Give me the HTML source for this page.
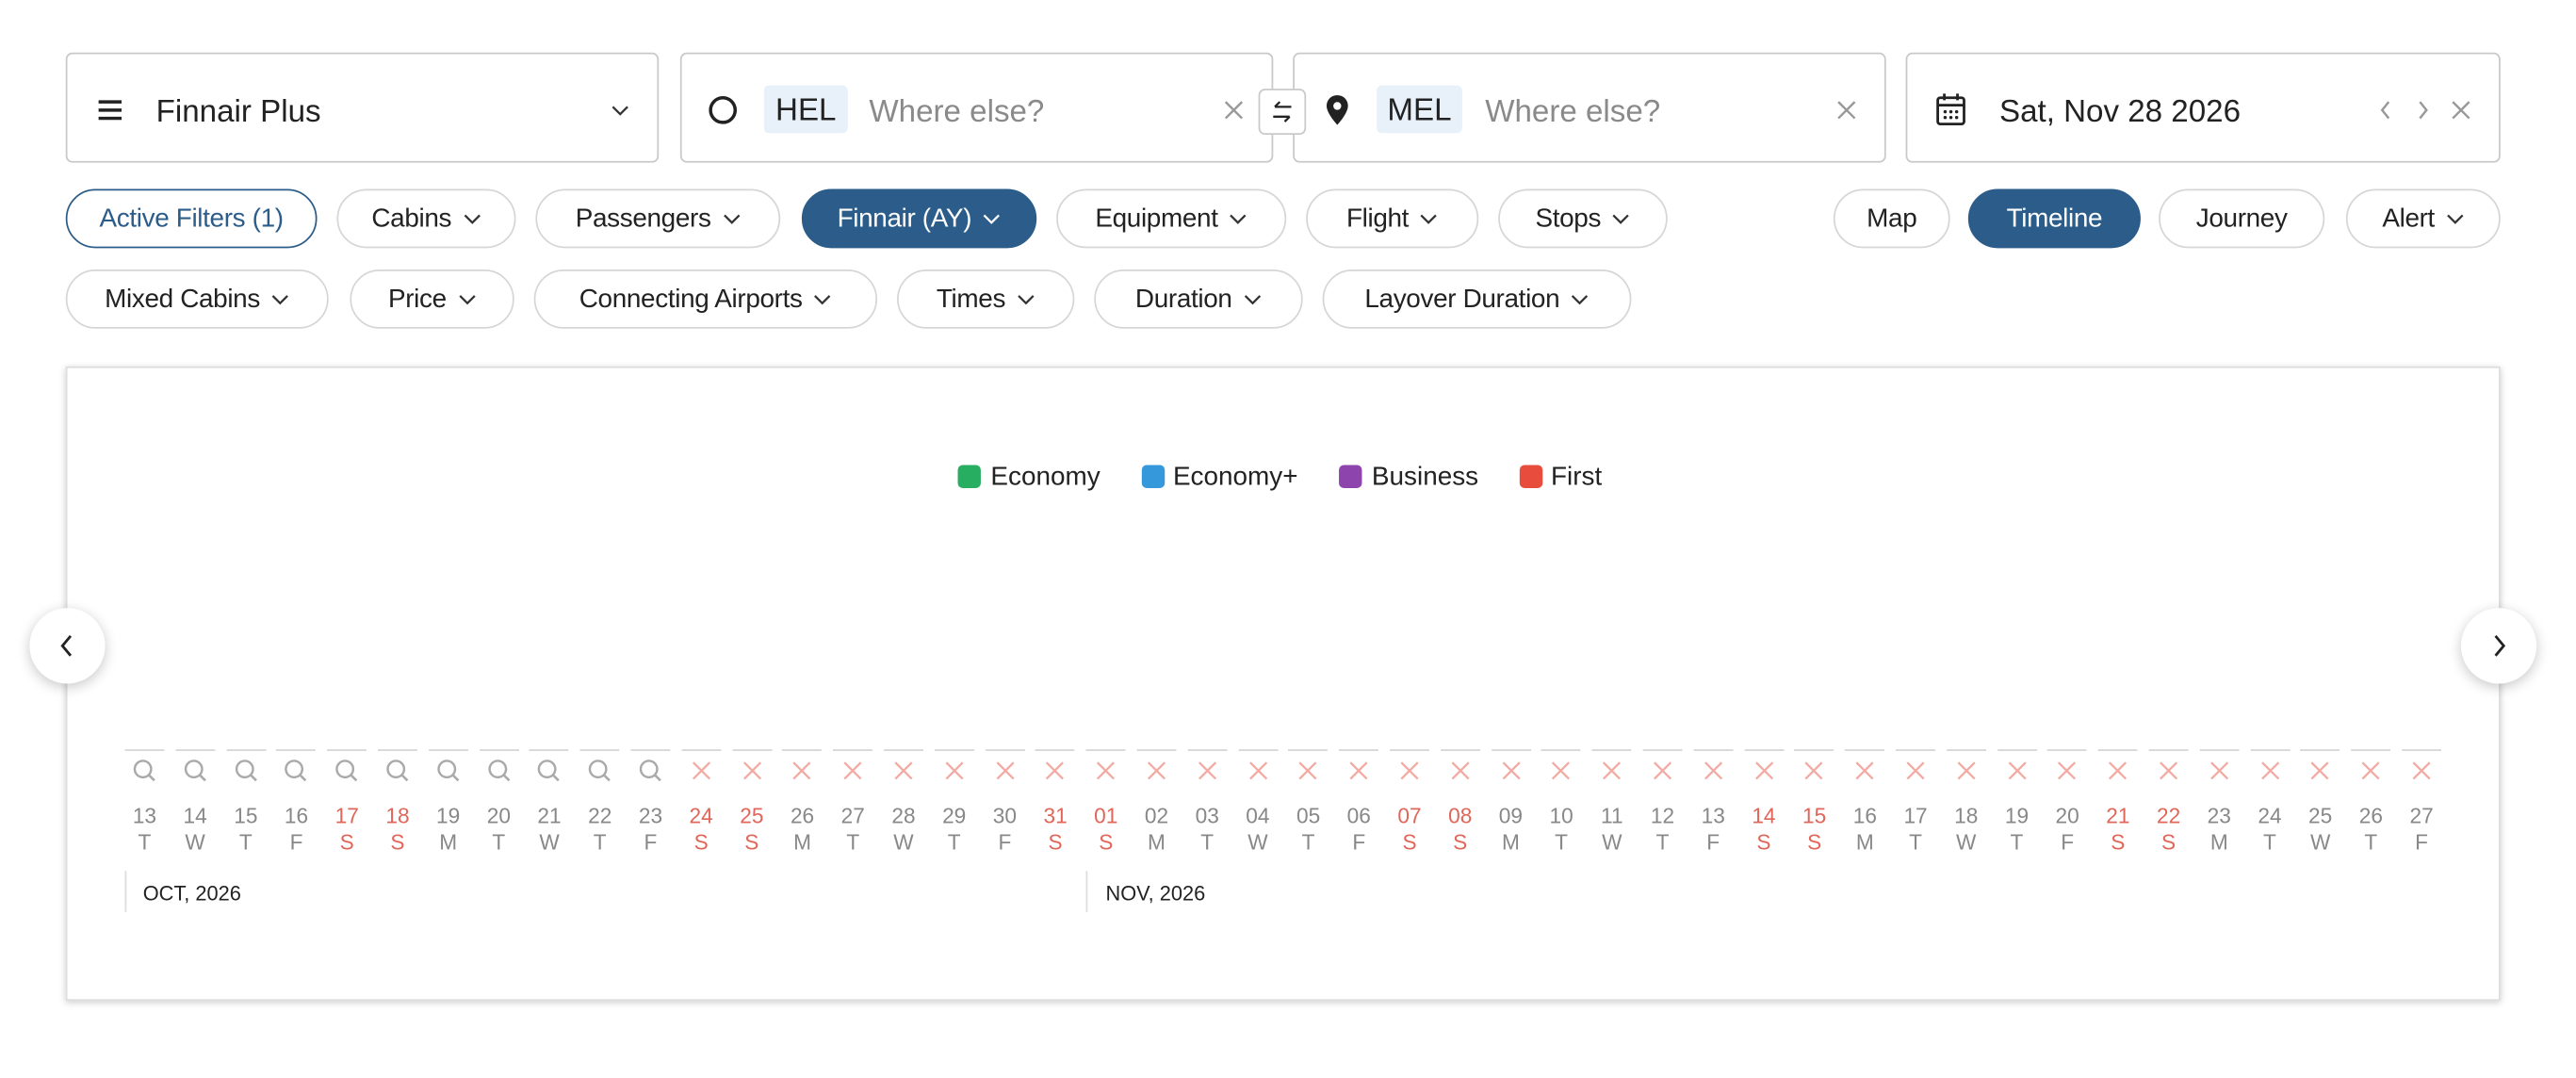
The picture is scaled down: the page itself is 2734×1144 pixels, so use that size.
<!DOCTYPE html>
<html><head><meta charset="utf-8"><style>
html,body{margin:0;padding:0;background:#fff;overflow:hidden}
body{width:2734px;height:1144px}
#w{position:absolute;left:0;top:0;width:1568px;height:656px;transform:scale(1.74362,1.7439);transform-origin:0 0;font-family:"Liberation Sans",sans-serif;color:#222}
.a{position:absolute}
.box{position:absolute;top:32px;height:67px;border:1px solid #c9c9c9;border-radius:4px;box-sizing:border-box;background:#fff}
.chip{position:absolute;height:36px;border:1px solid #d6d6d6;border-radius:18px;box-sizing:border-box;display:flex;align-items:center;justify-content:center;font-size:16px;color:#222;background:#fff;letter-spacing:-0.2px;padding-top:2px}
.chip svg{margin-left:7px;margin-top:-2px}
.dk{background:#2c5d8a;border-color:#2c5d8a;color:#fff}
.t{position:absolute;font-size:19px;top:58px;line-height:22px}
.gr{color:#8a8a8a}
.tag{position:absolute;top:52px;height:29px;background:#e8f0fa;border-radius:3px;font-size:19px;line-height:31px;text-align:center}
.col{position:absolute;width:30px;text-align:center}
.dash{position:absolute;top:456px;height:1px;width:24px;background:#d4d4d4}
.num{font-size:13px;color:#888;line-height:16px}
.red{color:#e0665a}
.lg{position:absolute;top:283px;width:14px;height:14px;border-radius:3px}
.lt{position:absolute;top:281px;font-size:16px;line-height:19px}
.nav{position:absolute;top:370px;width:46px;height:46px;border-radius:50%;background:#fff;box-shadow:0 2px 8px rgba(0,0,0,.22);display:flex;align-items:center;justify-content:center}
</style></head><body><div id="w">

<div class="box" style="left:40px;width:361px"></div>
<svg class="a" style="left:59px;top:60px" width="16" height="14"><path d="M1 2h14M1 7h14M1 12h14" stroke="#222" stroke-width="2"/></svg>
<div class="t" style="left:95px">Finnair Plus</div>
<svg class="a" style="left:372px;top:64px" width="11" height="7"><polyline points="1,1 5.5,5.5 10,1" fill="none" stroke="#333" stroke-width="1.3"/></svg>

<div class="box" style="left:414px;width:361px"></div>
<svg class="a" style="left:431px;top:58px" width="18" height="18"><circle cx="9" cy="9" r="7.5" fill="none" stroke="#222" stroke-width="2"/></svg>
<div class="tag" style="left:465px;width:51px">HEL</div>
<div class="t gr" style="left:529px">Where else?</div>
<svg class="a" style="left:745px;top:61px" width="12" height="12"><path d="M1 1L11 11M11 1L1 11" stroke="#999" stroke-width="1.4"/></svg>

<div class="box" style="left:787px;width:361px"></div>
<div class="a" style="left:766px;top:54px;width:29px;height:28px;border:1px solid #c9c9c9;border-radius:4px;background:#fff;box-sizing:border-box"></div>
<svg class="a" style="left:773px;top:61px" width="15" height="14"><path d="M3 4h10M3 4l3-3M12 10H2M12 10l-3 3" fill="none" stroke="#222" stroke-width="1.3"/></svg>
<svg class="a" style="left:806px;top:57px" width="16" height="20"><path d="M8 1C4 1 1.5 4 1.5 7.5 1.5 12 8 19 8 19s6.5-7 6.5-11.5C14.5 4 12 1 8 1z" fill="#222"/><circle cx="8" cy="7.5" r="2.4" fill="#fff"/></svg>
<div class="tag" style="left:838px;width:52px">MEL</div>
<div class="t gr" style="left:904px">Where else?</div>
<svg class="a" style="left:1118px;top:61px" width="12" height="12"><path d="M1 1L11 11M11 1L1 11" stroke="#999" stroke-width="1.4"/></svg>

<div class="box" style="left:1160px;width:362px"></div>
<svg class="a" style="left:1178px;top:56px" width="19" height="21"><rect x="1.5" y="3.5" width="16" height="16" rx="1.5" fill="none" stroke="#222" stroke-width="1.6"/><path d="M1.5 8h16M5.5 1v4M13.5 1v4" stroke="#222" stroke-width="1.6"/><circle cx="6" cy="12" r="1" fill="#222"/><circle cx="9.5" cy="12" r="1" fill="#222"/><circle cx="13" cy="12" r="1" fill="#222"/><circle cx="6" cy="15.5" r="1" fill="#222"/><circle cx="9.5" cy="15.5" r="1" fill="#222"/><circle cx="13" cy="15.5" r="1" fill="#222"/></svg>
<div class="t" style="left:1217px">Sat, Nov 28 2026</div>
<svg class="a" style="left:1448px;top:61px" width="8" height="12"><polyline points="6,1 2,6 6,11" fill="none" stroke="#999" stroke-width="1.4"/></svg>
<svg class="a" style="left:1471px;top:61px" width="8" height="12"><polyline points="2,1 6,6 2,11" fill="none" stroke="#999" stroke-width="1.4"/></svg>
<svg class="a" style="left:1492px;top:61px" width="12" height="12"><path d="M1 1L11 11M11 1L1 11" stroke="#999" stroke-width="1.4"/></svg>

<div class="chip" style="left:40px;top:115px;width:153px;border:1.5px solid #2c5d8a;color:#2c5d8a">Active Filters (1)</div>
<div class="chip" style="left:205px;top:115px;width:109px">Cabins<svg width="11" height="7"><polyline points="1,1 5.5,5.5 10,1" fill="none" stroke="#333" stroke-width="1.3"/></svg></div>
<div class="chip" style="left:326px;top:115px;width:149px">Passengers<svg width="11" height="7"><polyline points="1,1 5.5,5.5 10,1" fill="none" stroke="#333" stroke-width="1.3"/></svg></div>
<div class="chip dk" style="left:488px;top:115px;width:143px">Finnair (AY)<svg width="11" height="7"><polyline points="1,1 5.5,5.5 10,1" fill="none" stroke="#fff" stroke-width="1.3"/></svg></div>
<div class="chip" style="left:643px;top:115px;width:140px">Equipment<svg width="11" height="7"><polyline points="1,1 5.5,5.5 10,1" fill="none" stroke="#333" stroke-width="1.3"/></svg></div>
<div class="chip" style="left:795px;top:115px;width:105px">Flight<svg width="11" height="7"><polyline points="1,1 5.5,5.5 10,1" fill="none" stroke="#333" stroke-width="1.3"/></svg></div>
<div class="chip" style="left:912px;top:115px;width:103px">Stops<svg width="11" height="7"><polyline points="1,1 5.5,5.5 10,1" fill="none" stroke="#333" stroke-width="1.3"/></svg></div>
<div class="chip" style="left:1116px;top:115px;width:71px">Map</div>
<div class="chip dk" style="left:1198px;top:115px;width:105px">Timeline</div>
<div class="chip" style="left:1314px;top:115px;width:101px">Journey</div>
<div class="chip" style="left:1428px;top:115px;width:94px">Alert<svg width="11" height="7"><polyline points="1,1 5.5,5.5 10,1" fill="none" stroke="#333" stroke-width="1.3"/></svg></div>
<div class="chip" style="left:40px;top:164px;width:160px">Mixed Cabins<svg width="11" height="7"><polyline points="1,1 5.5,5.5 10,1" fill="none" stroke="#333" stroke-width="1.3"/></svg></div>
<div class="chip" style="left:213px;top:164px;width:100px">Price<svg width="11" height="7"><polyline points="1,1 5.5,5.5 10,1" fill="none" stroke="#333" stroke-width="1.3"/></svg></div>
<div class="chip" style="left:325px;top:164px;width:209px">Connecting Airports<svg width="11" height="7"><polyline points="1,1 5.5,5.5 10,1" fill="none" stroke="#333" stroke-width="1.3"/></svg></div>
<div class="chip" style="left:546px;top:164px;width:108px">Times<svg width="11" height="7"><polyline points="1,1 5.5,5.5 10,1" fill="none" stroke="#333" stroke-width="1.3"/></svg></div>
<div class="chip" style="left:666px;top:164px;width:127px">Duration<svg width="11" height="7"><polyline points="1,1 5.5,5.5 10,1" fill="none" stroke="#333" stroke-width="1.3"/></svg></div>
<div class="chip" style="left:805px;top:164px;width:188px">Layover Duration<svg width="11" height="7"><polyline points="1,1 5.5,5.5 10,1" fill="none" stroke="#333" stroke-width="1.3"/></svg></div>

<div class="a" style="left:40px;top:223px;width:1482px;height:386px;border:1px solid #ddd;box-sizing:border-box;box-shadow:0 1px 4px rgba(0,0,0,.2);background:#fff"></div>
<div class="lg" style="left:583px;background:#27ae60"></div><div class="lt" style="left:603px">Economy</div>
<div class="lg" style="left:695px;background:#3498db"></div><div class="lt" style="left:714px">Economy+</div>
<div class="lg" style="left:815px;background:#8e44ad"></div><div class="lt" style="left:835px">Business</div>
<div class="lg" style="left:925px;background:#e74c3c"></div><div class="lt" style="left:944px">First</div>

<div class="nav" style="left:18px"><svg width="10" height="16"><polyline points="7,2 2,8 7,14" fill="none" stroke="#222" stroke-width="1.6"/></svg></div>
<div class="nav" style="left:1498px"><svg width="10" height="16"><polyline points="3,2 8,8 3,14" fill="none" stroke="#222" stroke-width="1.6"/></svg></div>

<div id="days"></div>
<div class="a" style="left:76px;top:530px;width:1px;height:25px;background:#ddd"></div>
<div class="a" style="left:87px;top:537px;font-size:12.5px;color:#222">OCT, 2026</div>
<div class="a" style="left:661px;top:530px;width:1px;height:25px;background:#ddd"></div>
<div class="a" style="left:673px;top:537px;font-size:12.5px;color:#222">NOV, 2026</div>

<script>
var d=[["13","T"],["14","W"],["15","T"],["16","F"],["17","S"],["18","S"],["19","M"],["20","T"],["21","W"],["22","T"],["23","F"],["24","S"],["25","S"],["26","M"],["27","T"],["28","W"],["29","T"],["30","F"],["31","S"],["01","S"],["02","M"],["03","T"],["04","W"],["05","T"],["06","F"],["07","S"],["08","S"],["09","M"],["10","T"],["11","W"],["12","T"],["13","F"],["14","S"],["15","S"],["16","M"],["17","T"],["18","W"],["19","T"],["20","F"],["21","S"],["22","S"],["23","M"],["24","T"],["25","W"],["26","T"],["27","F"]];
var h="";
for(var i=0;i<d.length;i++){var x=88+i*30.8;var r=d[i][1]=="S"?" red":"";
h+='<div class="dash" style="left:'+(x-12)+'px"></div>';
if(i<11)h+='<svg class="a" style="left:'+(x-8)+'px;top:461px" width="16" height="16"><circle cx="7" cy="7" r="5" fill="none" stroke="#aaa" stroke-width="1.4"/><path d="M10.5 10.5L14 14" stroke="#aaa" stroke-width="1.5"/></svg>';
else h+='<svg class="a" style="left:'+(x-6)+'px;top:463px" width="12" height="12"><path d="M1 1L11 11M11 1L1 11" stroke="#f2aaa2" stroke-width="1.3"/></svg>';
h+='<div class="col num'+r+'" style="left:'+(x-15)+'px;top:489px">'+d[i][0]+'<br>'+d[i][1]+'</div>';}
document.getElementById("days").innerHTML=h;
</script>
</div></body></html>
